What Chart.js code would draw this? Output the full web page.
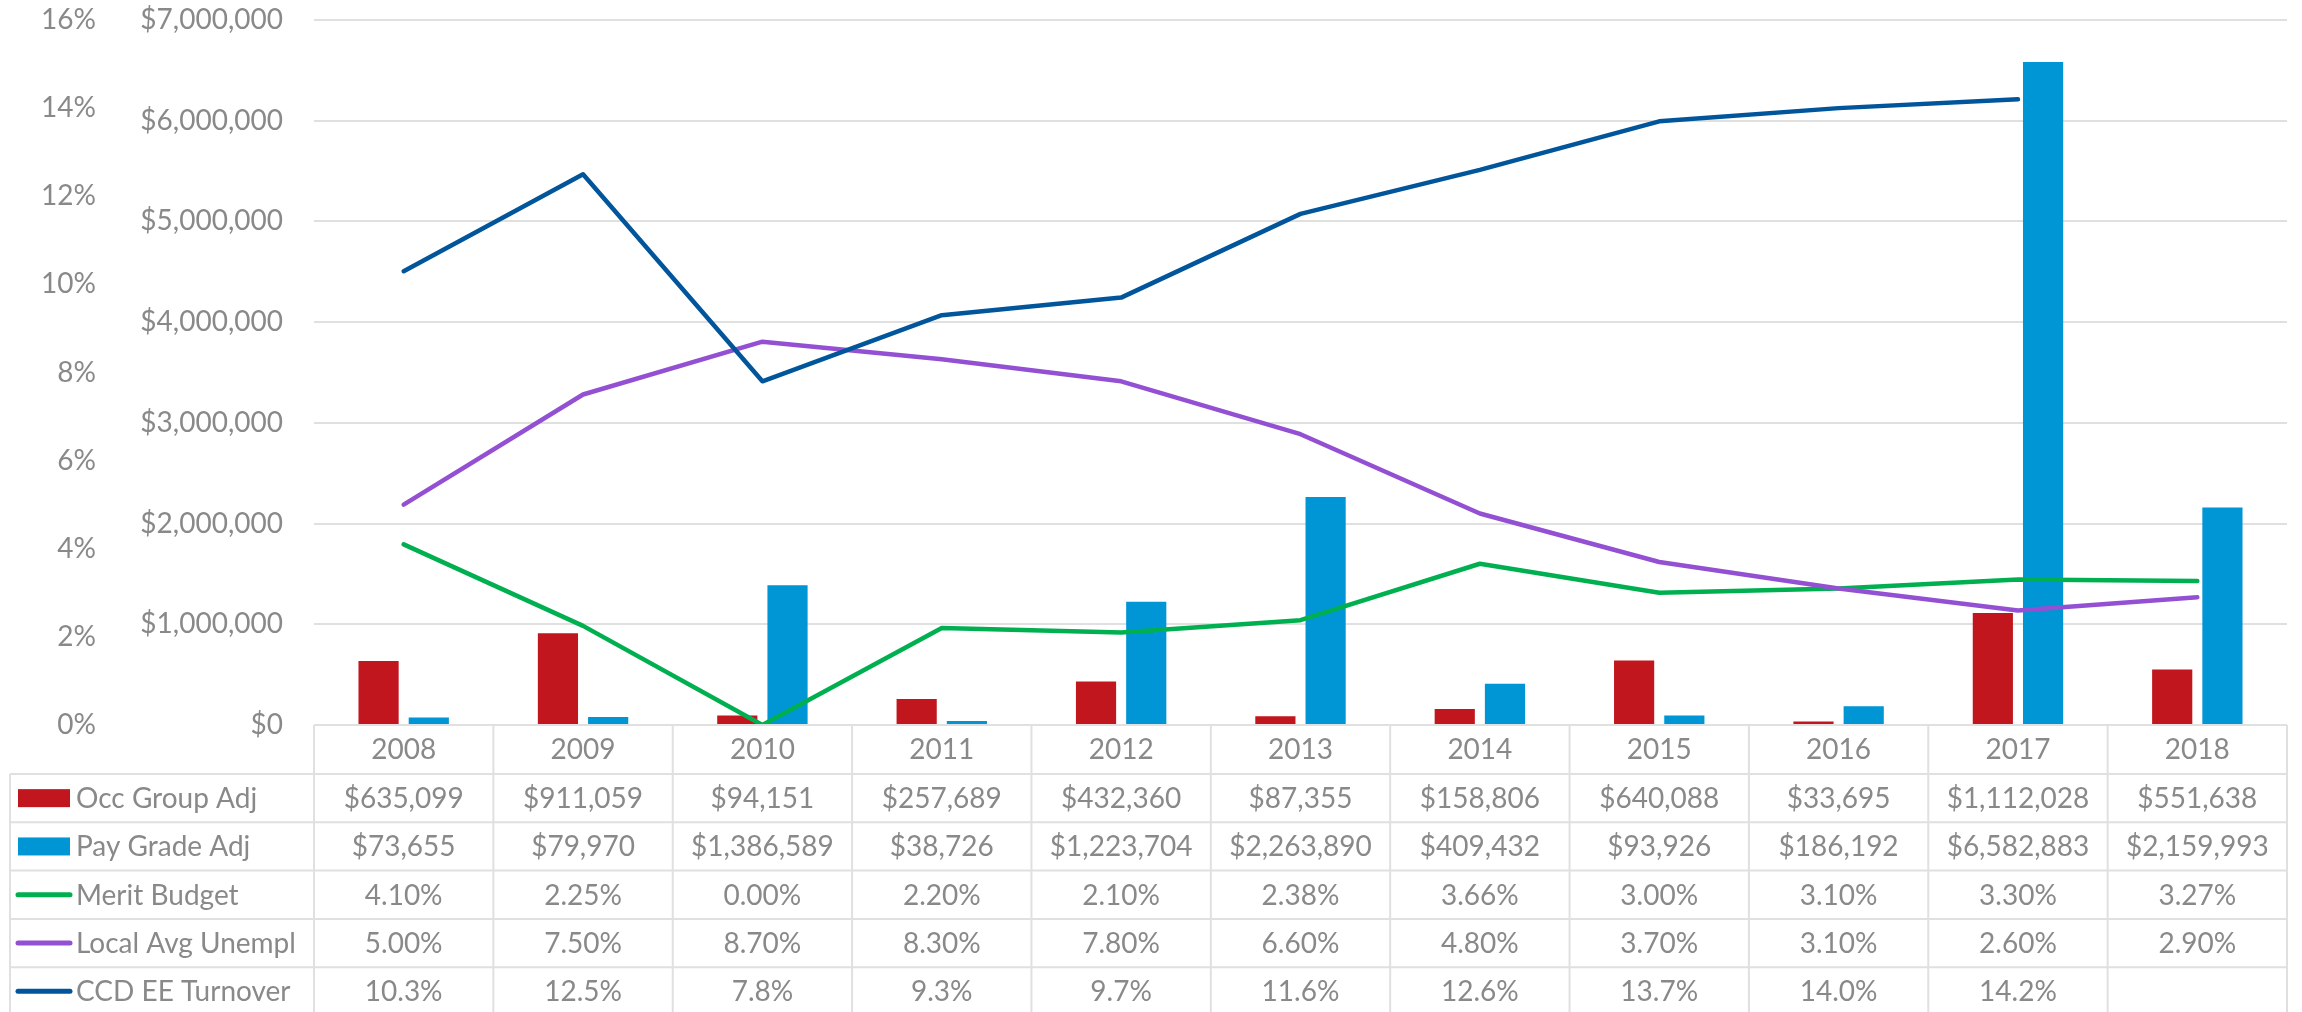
<!DOCTYPE html>
<html>
<head>
<meta charset="utf-8">
<script src="https://cdn.jsdelivr.net/npm/chart.js@4.4.1/dist/chart.umd.min.js"></script>
<style>
  html, body { margin: 0; padding: 0; background: #fff; }
  #wrap { width: 2302px; height: 1012px; }
</style>
</head>
<body>
<div id="wrap"><canvas id="chart" width="2302" height="1012"></canvas></div>
<script>
// Data
const years = ['2008', '2009', '2010', '2011', '2012', '2013', '2014', '2015', '2016', '2017', '2018'];
const occGroupAdj = [635099, 911059, 94151, 257689, 432360, 87355, 158806, 640088, 33695, 1112028, 551638];
const payGradeAdj = [73655, 79970, 1386589, 38726, 1223704, 2263890, 409432, 93926, 186192, 6582883, 2159993];
const meritBudget = [4.10, 2.25, 0.00, 2.20, 2.10, 2.38, 3.66, 3.00, 3.10, 3.30, 3.27];
const localUnempl = [5.00, 7.50, 8.70, 8.30, 7.80, 6.60, 4.80, 3.70, 3.10, 2.60, 2.90];
const eeTurnover = [10.3, 12.5, 7.8, 9.3, 9.7, 11.6, 12.6, 13.7, 14.0, 14.2, null];

const FONT = 'Lato, "Open Sans", sans-serif';
const TEXT = '#898989';
const GRID = '#e0e0e0';

const RED = '#c1161d';
const BLUE = '#0095d5';
const GREEN = '#00b050';
const PURPLE = '#9450d2';
const NAVY = '#00559b';

const money = v => '$' + Math.round(v).toLocaleString('en-US');

// rows of the data table under the plot
const tableRows = [
  { label: 'Occ Group Adj', values: occGroupAdj, fmt: money, color: RED, kind: 'bar' },
  { label: 'Pay Grade Adj', values: payGradeAdj, fmt: money, color: BLUE, kind: 'bar' },
  { label: 'Merit Budget', values: meritBudget, fmt: v => v.toFixed(2) + '%', color: GREEN, kind: 'line' },
  { label: 'Local Avg Unempl', values: localUnempl, fmt: v => v.toFixed(2) + '%', color: PURPLE, kind: 'line' },
  { label: 'CCD EE Turnover', values: eeTurnover, fmt: v => v.toFixed(1) + '%', color: NAVY, kind: 'line' }
];

const HEAD_H = 49;
const ROW_H = 48.3;
const TABLE_LEFT = 10;

const tablePlugin = {
  id: 'dataTable',
  afterDraw(chart) {
    const ctx = chart.ctx;
    const area = chart.chartArea;
    const colW = (area.right - area.left) / years.length;
    const top = area.bottom;
    const headBottom = top + HEAD_H;
    const bottom = chart.height + 4;

    ctx.save();
    ctx.strokeStyle = GRID;
    ctx.lineWidth = 2;

    // horizontal lines
    ctx.beginPath();
    ctx.moveTo(area.left, top);
    ctx.lineTo(area.right, top);
    for (let r = 0; r < tableRows.length; r++) {
      const y = headBottom + r * ROW_H;
      ctx.moveTo(TABLE_LEFT, y);
      ctx.lineTo(area.right, y);
    }
    // vertical lines
    for (let i = 0; i <= years.length; i++) {
      const x = area.left + i * colW;
      ctx.moveTo(x, top);
      ctx.lineTo(x, bottom);
    }
    ctx.moveTo(TABLE_LEFT, headBottom);
    ctx.lineTo(TABLE_LEFT, bottom);
    ctx.stroke();

    // cells
    ctx.font = '28px ' + FONT;
    ctx.fillStyle = TEXT;
    ctx.textBaseline = 'middle';
    tableRows.forEach((row, r) => {
      const cy = headBottom + r * ROW_H + ROW_H / 2;

      // legend key
      if (row.kind === 'bar') {
        ctx.fillStyle = row.color;
        ctx.fillRect(18, cy - 9, 52, 18);
      } else {
        ctx.strokeStyle = row.color;
        ctx.lineWidth = 5;
        ctx.lineCap = 'round';
        ctx.beginPath();
        ctx.moveTo(18, cy);
        ctx.lineTo(70, cy);
        ctx.stroke();
      }
      ctx.fillStyle = TEXT;
      ctx.textAlign = 'left';
      ctx.fillText(row.label, 76, cy + 1);

      ctx.textAlign = 'center';
      row.values.forEach((v, i) => {
        if (v === null) return;
        const cx = chart.scales.x.getPixelForValue(i);
        ctx.fillText(row.fmt(v), cx, cy + 1);
      });
    });
    ctx.restore();
  }
};

const lineStyle = color => ({
  type: 'line',
  yAxisID: 'y1',
  borderColor: color,
  backgroundColor: color,
  borderWidth: 4.5,
  pointRadius: 0,
  tension: 0,
  fill: false,
  borderCapStyle: 'round',
  borderJoinStyle: 'round',
  spanGaps: false
});

// tick padding would otherwise be added above the plot as well
const fixAxisWidth = w => scale => {
  scale.width = w;
  scale.paddingTop = 0;
  scale.paddingBottom = 0;
};

new Chart(document.getElementById('chart').getContext('2d'), {
  type: 'bar',
  data: {
    labels: years,
    datasets: [
      { label: 'Occ Group Adj', data: occGroupAdj, backgroundColor: RED, yAxisID: 'y', order: 4,
        categoryPercentage: 0.56, barPercentage: 0.8 },
      { label: 'Pay Grade Adj', data: payGradeAdj, backgroundColor: BLUE, yAxisID: 'y', order: 4,
        categoryPercentage: 0.56, barPercentage: 0.8 },
      { label: 'Merit Budget', data: meritBudget, order: 3, ...lineStyle(GREEN) },
      { label: 'Local Avg Unempl', data: localUnempl, order: 2, ...lineStyle(PURPLE) },
      { label: 'CCD EE Turnover', data: eeTurnover, order: 1, ...lineStyle(NAVY) }
    ]
  },
  options: {
    responsive: false,
    animation: false,
    devicePixelRatio: 1,
    layout: {
      padding: { top: 20, right: 15, left: 0, bottom: 1012 - 725 - HEAD_H }
    },
    plugins: {
      legend: { display: false },
      tooltip: { enabled: false }
    },
    scales: {
      x: {
        grid: { display: false },
        border: { display: false },
        ticks: {
          color: TEXT,
          font: { family: FONT, size: 28 },
          padding: 0,
          maxRotation: 0
        },
        afterFit(scale) { scale.height = HEAD_H; }
      },
      y1: {
        position: 'left',
        weight: 10,
        min: 0,
        max: 16,
        grid: { display: false },
        border: { display: false },
        ticks: {
          stepSize: 2,
          color: TEXT,
          font: { family: FONT, size: 28 },
          padding: 26,
          callback: v => v + '%'
        },
        afterFit: fixAxisWidth(130)
      },
      y: {
        position: 'left',
        weight: 0,
        min: 0,
        max: 7000000,
        grid: { color: GRID, lineWidth: 2, drawTicks: false },
        border: { display: false },
        ticks: {
          stepSize: 1000000,
          color: TEXT,
          font: { family: FONT, size: 28 },
          padding: 31,
          callback: v => money(v)
        },
        afterFit: fixAxisWidth(184)
      }
    }
  },
  plugins: [tablePlugin]
});
</script>
</body>
</html>
